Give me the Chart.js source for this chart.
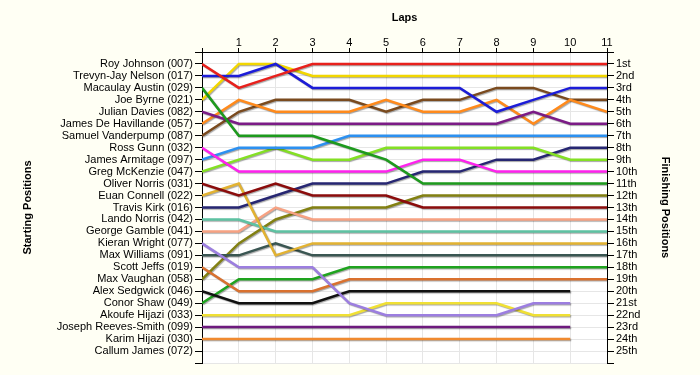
<!DOCTYPE html>
<html>
<head>
<meta charset="utf-8">
<title>Lap Chart</title>
<script src="https://cdn.jsdelivr.net/npm/chart.js@4.4.0/dist/chart.umd.min.js"></script>
<style>
  html, body { margin: 0; padding: 0; background: #fffff4; }
  #wrap { width: 700px; height: 375px; }
</style>
</head>
<body>
<div id="wrap"><canvas id="lapChart" width="700" height="375"></canvas></div>
<script>
// laps along the top axis
const laps = [0, 1, 2, 3, 4, 5, 6, 7, 8, 9, 10, 11];

// starting grid, top to bottom
const drivers = [
  'Roy Johnson (007)', 'Trevyn-Jay Nelson (017)', 'Macaulay Austin (029)', 'Joe Byrne (021)',
  'Julian Davies (082)', 'James De Havillande (057)', 'Samuel Vanderpump (087)', 'Ross Gunn (032)',
  'James Armitage (097)', 'Greg McKenzie (047)', 'Oliver Norris (031)', 'Euan Connell (022)',
  'Travis Kirk (016)', 'Lando Norris (042)', 'George Gamble (041)', 'Kieran Wright (077)',
  'Max Williams (091)', 'Scott Jeffs (019)', 'Max Vaughan (058)', 'Alex Sedgwick (046)',
  'Conor Shaw (049)', 'Akoufe Hijazi (033)', 'Joseph Reeves-Smith (099)', 'Karim Hijazi (030)',
  'Callum James (072)'
];

const finishLabels = [
  '1st', '2nd', '3rd', '4th', '5th', '6th', '7th', '8th', '9th', '10th', '11th', '12th', '13th',
  '14th', '15th', '16th', '17th', '18th', '19th', '20th', '21st', '22nd', '23rd', '24th', '25th'
];

// position at each lap (lapped cars stop at lap 10)
const royJohnson        = [1, 3, 2, 1, 1, 1, 1, 1, 1, 1, 1, 1];
const trevynJayNelson   = [2, 2, 1, 3, 3, 3, 3, 3, 5, 4, 3, 3];
const macaulayAustin    = [3, 7, 7, 7, 8, 9, 11, 11, 11, 11, 11, 11];
const joeByrne          = [4, 1, 1, 2, 2, 2, 2, 2, 2, 2, 2, 2];
const julianDavies      = [5, 6, 6, 6, 6, 6, 6, 6, 6, 5, 6, 6];
const jamesDeHavillande = [6, 4, 5, 5, 5, 4, 5, 5, 4, 6, 4, 5];
const samuelVanderpump  = [7, 5, 4, 4, 4, 5, 4, 4, 3, 3, 4, 4];
const rossGunn          = [8, 10, 10, 10, 10, 10, 9, 9, 10, 10, 10, 10];
const jamesArmitage     = [9, 8, 8, 8, 7, 7, 7, 7, 7, 7, 7, 7];
const gregMcKenzie      = [10, 9, 8, 9, 9, 8, 8, 8, 8, 8, 9, 9];
const oliverNorris      = [11, 12, 11, 12, 12, 12, 13, 13, 13, 13, 13, 13];
const euanConnell       = [12, 11, 17, 16, 16, 16, 16, 16, 16, 16, 16, 16];
const travisKirk        = [13, 13, 12, 11, 11, 11, 10, 10, 9, 9, 8, 8];
const landoNorris       = [14, 14, 15, 15, 15, 15, 15, 15, 15, 15, 15, 15];
const georgeGamble      = [15, 15, 13, 14, 14, 14, 14, 14, 14, 14, 14, 14];
const kieranWright      = [16, 18, 18, 18, 21, 22, 22, 22, 22, 21, 21];
const maxWilliams       = [17, 17, 16, 17, 17, 17, 17, 17, 17, 17, 17, 17];
const scottJeffs        = [18, 20, 20, 20, 19, 19, 19, 19, 19, 19, 19, 19];
const maxVaughan        = [19, 16, 14, 13, 13, 13, 12, 12, 12, 12, 12, 12];
const alexSedgwick      = [20, 21, 21, 21, 20, 20, 20, 20, 20, 20, 20];
const conorShaw         = [21, 19, 19, 19, 18, 18, 18, 18, 18, 18, 18, 18];
const akoufeHijazi      = [22, 22, 22, 22, 22, 21, 21, 21, 21, 22, 22];
const josephReevesSmith = [23, 23, 23, 23, 23, 23, 23, 23, 23, 23, 23];
const karimHijazi       = [24, 24, 24, 24, 24, 24, 24, 24, 24, 24, 24];

const series = [
  royJohnson, trevynJayNelson, macaulayAustin, joeByrne, julianDavies, jamesDeHavillande,
  samuelVanderpump, rossGunn, jamesArmitage, gregMcKenzie, oliverNorris, euanConnell,
  travisKirk, landoNorris, georgeGamble, kieranWright, maxWilliams, scottJeffs,
  maxVaughan, alexSedgwick, conorShaw, akoufeHijazi, josephReevesSmith, karimHijazi
];

const lineColors = [
  '#e8201c', '#1c1cd8', '#1d9a1d', '#f2d600', '#7b1b86', '#ff8a1c',
  '#7a4a1e', '#ff22ee', '#2c90f0', '#84e024', '#8b0c0c', '#e2b232',
  '#262672', '#5ec2a2', '#f7a283', '#9c7ee0', '#3a5652', '#d9712f',
  '#828012', '#111111', '#1fa31f', '#f0e034', '#6e1a7e', '#f08a30'
];

const FONT = '"Liberation Sans", Arial, sans-serif';

const datasets = series.map((s, i) => ({
  label: drivers[i],
  data: s.map((p, j) => ({ x: laps[j], y: p })),
  borderColor: lineColors[i],
  borderWidth: 2.5,
  pointRadius: 0,
  tension: 0,
  fill: false,
  yAxisID: 'y'
}));

// ivory page, white plot area
const backdrop = {
  id: 'backdrop',
  beforeDraw(chart) {
    const { ctx, chartArea: a } = chart;
    ctx.save();
    ctx.fillStyle = '#fffff4';
    ctx.fillRect(0, 0, chart.width, chart.height);
    ctx.fillStyle = '#ffffff';
    ctx.fillRect(a.left, a.top, a.right - a.left, a.bottom - a.top);
    ctx.restore();
  }
};

// soft drop shadow under each line
const lineShadow = {
  id: 'lineShadow',
  beforeDatasetDraw(chart) {
    const c = chart.ctx;
    c.save();
    c.shadowColor = 'rgba(0,0,0,0.35)';
    c.shadowOffsetX = 1;
    c.shadowOffsetY = 1;
    c.shadowBlur = 1;
  },
  afterDatasetDraw(chart) {
    chart.ctx.restore();
  }
};

const gridColor = (edges) => (ctx) => edges.includes(ctx.tick.value) ? 'rgba(0,0,0,0)' : '#e6e6e6';

const yAxisBase = {
  reverse: true,
  min: 0,
  max: 26,
  border: { color: '#000', width: 1 },
  ticks: { stepSize: 1, autoSkip: false, padding: 2, color: '#000', font: { family: FONT, size: 11 } }
};

new Chart(document.getElementById('lapChart'), {
  type: 'line',
  data: { datasets },
  options: {
    responsive: false,
    animation: false,
    devicePixelRatio: 1,
    layout: { padding: { left: 0, right: 0, top: 0, bottom: 12 } },
    plugins: { legend: { display: false }, tooltip: { enabled: false } },
    scales: {
      x: {
        type: 'linear',
        position: 'top',
        min: 0,
        max: 11,
        grid: { color: gridColor([0, 11]), tickColor: '#000', tickLength: 4 },
        border: { color: '#000', width: 1 },
        ticks: {
          stepSize: 1, autoSkip: false, maxRotation: 0, padding: -2, color: '#000',
          font: { family: FONT, size: 11 },
          callback: v => v === 0 ? '' : v
        },
        title: { display: true, text: 'Laps', color: '#000', font: { family: FONT, size: 11, weight: 'bold' }, padding: { top: 11, bottom: 0 } },
        afterFit: s => { s.height = 52; }
      },
      y: {
        ...yAxisBase,
        position: 'left',
        grid: { color: gridColor([0]), tickColor: '#000', tickLength: 7 },
        ticks: { ...yAxisBase.ticks, callback: v => drivers[v - 1] || '' },
        title: { display: true, text: 'Starting Positions', color: '#000', font: { family: FONT, size: 11, weight: 'bold' }, padding: { top: 21, bottom: 0 } },
        afterFit: s => { s.width = 202; }
      },
      y2: {
        ...yAxisBase,
        position: 'right',
        grid: { drawOnChartArea: false, tickColor: '#000', tickLength: 7 },
        ticks: { ...yAxisBase.ticks, callback: v => finishLabels[v - 1] || '' },
        title: { display: true, text: 'Finishing Positions', color: '#000', font: { family: FONT, size: 11, weight: 'bold' }, padding: { top: 28, bottom: 0 } },
        afterFit: s => { s.width = 93; }
      }
    }
  },
  plugins: [backdrop, lineShadow]
});
</script>
</body>
</html>
